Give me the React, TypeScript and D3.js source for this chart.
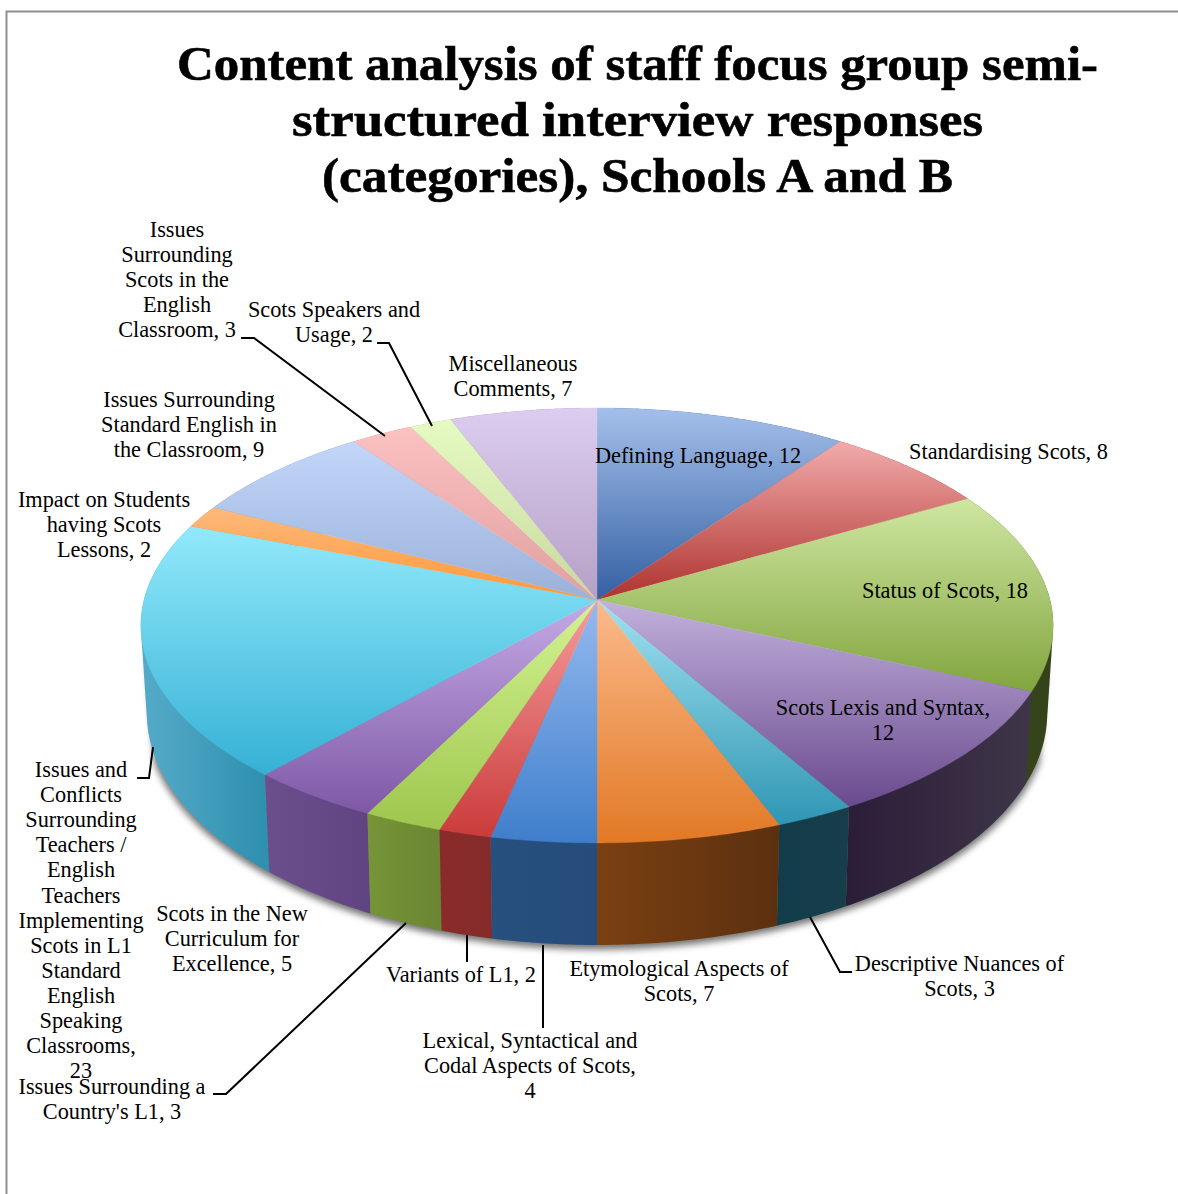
import React from "react";
import * as d3 from "d3";

// Interview response categories, clockwise from twelve o'clock.
const categories = [
  "Defining Language", "Standardising Scots", "Status of Scots", "Scots Lexis and Syntax",
  "Descriptive Nuances of Scots", "Etymological Aspects of Scots", "Lexical, Syntactical and Codal Aspects of Scots",
  "Variants of L1", "Issues Surrounding a Country's L1", "Scots in the New Curriculum for Excellence",
  "Issues and Conflicts Surrounding Teachers / English Teachers Implementing Scots in L1 Standard English Speaking Classrooms",
  "Impact on Students having Scots Lessons", "Issues Surrounding Standard English in the Classroom",
  "Issues Surrounding Scots in the English Classroom", "Scots Speakers and Usage", "Miscellaneous Comments",
];
const responses = [12, 8, 18, 12, 3, 7, 4, 2, 3, 5, 23, 2, 9, 3, 2, 7];

const topLight = ["#a4bfea", "#f2abab", "#cfe6a2", "#c1b1dc", "#a0e2f0", "#fbba8c", "#95baf0", "#f59d9d", "#d3f392", "#c5aae6", "#92e9fb", "#fdb97a", "#c3d6fa", "#fcc1c1", "#e5fbc2", "#dccdf0"];
const topDark = ["#3460a2", "#ae322e", "#82a53e", "#6a4a8e", "#2f96b4", "#e27925", "#3f7ecb", "#cb3b3b", "#9ec64d", "#7e58a5", "#35b1d5", "#ff983a", "#9ab1d8", "#e09f9f", "#c8d8a0", "#b5a0c5"];
const wallLeft = ["#234070", "#7a2220", "#3a4a1c", "#2b1d38", "#133c4a", "#7a4012", "#27507f", "#8a2b2b", "#769537", "#6b4f8d", "#55abc9", "#a8642a", "#6b7f9f", "#a06f6f", "#8a9a70", "#807090"];
const wallRight = ["#234070", "#7a2220", "#33421a", "#3f3649", "#173e4a", "#5c300f", "#254c7a", "#852a2a", "#6b8533", "#5f4480", "#2e8fae", "#a8642a", "#6b7f9f", "#a06f6f", "#8a9a70", "#807090"];

const titleLines = ["Content analysis of staff focus group semi-", "structured interview responses", "(categories), Schools A and B"];
const titleCentres = [637.5, 637.5, 637.5];
const titleBaselines = [79.5, 135.5, 191.5];
const titleWidths = [921, 691, 631];

const labelLines = [
  ["Defining Language, 12"],
  ["Standardising Scots, 8"],
  ["Status of Scots, 18"],
  ["Scots Lexis and Syntax,", "12"],
  ["Descriptive Nuances of", "Scots, 3"],
  ["Etymological Aspects of", "Scots, 7"],
  ["Lexical, Syntactical and", "Codal Aspects of Scots,", "4"],
  ["Variants of L1, 2"],
  ["Issues Surrounding a", "Country's L1, 3"],
  ["Scots in the New", "Curriculum for", "Excellence, 5"],
  ["Issues and", "Conflicts", "Surrounding", "Teachers /", "English", "Teachers", "Implementing", "Scots in L1", "Standard", "English", "Speaking", "Classrooms,", "23"],
  ["Impact on Students", "having Scots", "Lessons, 2"],
  ["Issues Surrounding", "Standard English in", "the Classroom, 9"],
  ["Issues", "Surrounding", "Scots in the", "English", "Classroom, 3"],
  ["Scots Speakers and", "Usage, 2"],
  ["Miscellaneous", "Comments, 7"],
];
const labelCentreX = [698, 1008.5, 945, 883, 959.5, 679, 530, 461, 112, 232, 81, 104, 189, 177, 334, 513];
const labelFirstBaseline = [463, 459, 598, 715, 971, 976, 1048, 982, 1094, 921, 777, 507, 407, 237, 317, 371];
const labelLeading = 25.1;

const leaderLines: [number, number][][] = [
  [[241, 338], [254, 338], [385, 436]],
  [[377, 343], [389, 343], [432, 426]],
  [[137, 778], [149, 778], [153, 747]],
  [[213, 1094], [226, 1094], [406, 923]],
  [[467, 935], [467, 962]],
  [[543, 945], [543, 1028]],
  [[810, 917], [840, 972], [852, 972]],
];

// Perspective projection of the pie's plane onto the page.
const cx = 597;
const cy = 600;
const radiusX = 453;
const depthA = 214.5;
const perspective = 0.117;
const bottomScaleX = 0.987;
const bottomScaleY = 1.066;
const bottomDrop = 86;

type P = [number, number];
const topPoint = (a: number): P => {
  const w = 1 + perspective * Math.cos(a);
  return [cx + (radiusX * Math.sin(a)) / w, cy - (depthA * Math.cos(a)) / w];
};
const bottomPoint = (a: number): P => {
  const [x, y] = topPoint(a);
  return [cx + (x - cx) * bottomScaleX, cy + (y - cy) * bottomScaleY + bottomDrop];
};
const sample = (a0: number, a1: number) => {
  const n = Math.max(2, Math.ceil((a1 - a0) / 0.01));
  return d3.range(n + 1).map((i) => a0 + ((a1 - a0) * i) / n);
};
const line = d3.line<P>();

const arcs = d3.pie<number>().sort(null).value((d) => d)(responses);

const sliceOutline = (a0: number, a1: number) =>
  line([[cx, cy], ...sample(a0, a1).map(topPoint)])! + "Z";
// The hull closes the tangent between the two rims at the pie's sides; the
// inward part of it is hidden under the top face.
const wallOutline = (a0: number, a1: number) => {
  const angles = sample(a0, a1);
  return line(d3.polygonHull([...angles.map(topPoint), ...angles.map(bottomPoint)] as P[])!)! + "Z";
};

const wallOrder = d3.range(arcs.length).sort((p, q) => {
  const mid = (i: number) => Math.abs((arcs[i].startAngle + arcs[i].endAngle) / 2 - Math.PI);
  return mid(q) - mid(p);
});

const shadowOutline = wallOutline(Math.PI * 0.6, Math.PI * 1.4);

export default function App() {
  const family = "'Liberation Serif', serif";
  return (
    <svg width={1178} height={1194} style={{ position: "absolute", left: 0, top: 0, background: "#fff" }}>
      <defs>
        {arcs.map((_, i) => (
          <linearGradient key={i} id={`top${i}`} x1="0" y1="0" x2="0" y2="1">
            <stop offset="0" stopColor={topLight[i]} />
            <stop offset="1" stopColor={topDark[i]} />
          </linearGradient>
        ))}
        {arcs.map((_, i) => (
          <linearGradient key={i} id={`wall${i}`} x1="0" y1="0" x2="1" y2="0">
            <stop offset="0" stopColor={wallLeft[i]} />
            <stop offset="1" stopColor={wallRight[i]} />
          </linearGradient>
        ))}
        <filter id="soft" x="-5%" y="-5%" width="110%" height="110%">
          <feGaussianBlur stdDeviation="3.5" />
        </filter>
      </defs>

      <path d="M1178,11.5 H6.5 V1194" fill="none" stroke="#8f8f8f" strokeWidth={2} />

      <path d={shadowOutline} fill="#000" opacity={0.55} filter="url(#soft)" transform="translate(0,3)" stroke="#000" strokeWidth={3} />

      {wallOrder.map((i) => (
        <path key={i} d={wallOutline(arcs[i].startAngle, arcs[i].endAngle)} fill={`url(#wall${i})`} />
      ))}
      {arcs.map((a, i) => (
        <path
          key={categories[i]}
          d={sliceOutline(a.startAngle, a.endAngle)}
          fill={`url(#top${i})`}
          stroke={`url(#top${i})`}
          strokeWidth={0.4}
        />
      ))}

      {leaderLines.map((pts, i) => (
        <path key={i} d={line(pts)!} fill="none" stroke="#000" strokeWidth={2} />
      ))}

      <g fontFamily={family} fontWeight={700} fontSize={49} textAnchor="middle" fill="#000" stroke="#000" strokeWidth={0.6}>
        {titleLines.map((t, i) => (
          <text key={t} x={titleCentres[i]} y={titleBaselines[i]} textLength={titleWidths[i]} lengthAdjust="spacingAndGlyphs">
            {t}
          </text>
        ))}
      </g>

      <g fontFamily={family} fontSize={22.3} textAnchor="middle" fill="#000">
        {labelLines.map((lines, i) =>
          lines.map((t, j) => (
            <text key={`${i}-${j}`} x={labelCentreX[i]} y={labelFirstBaseline[i] + j * labelLeading}>
              {t}
            </text>
          ))
        )}
      </g>
    </svg>
  );
}
